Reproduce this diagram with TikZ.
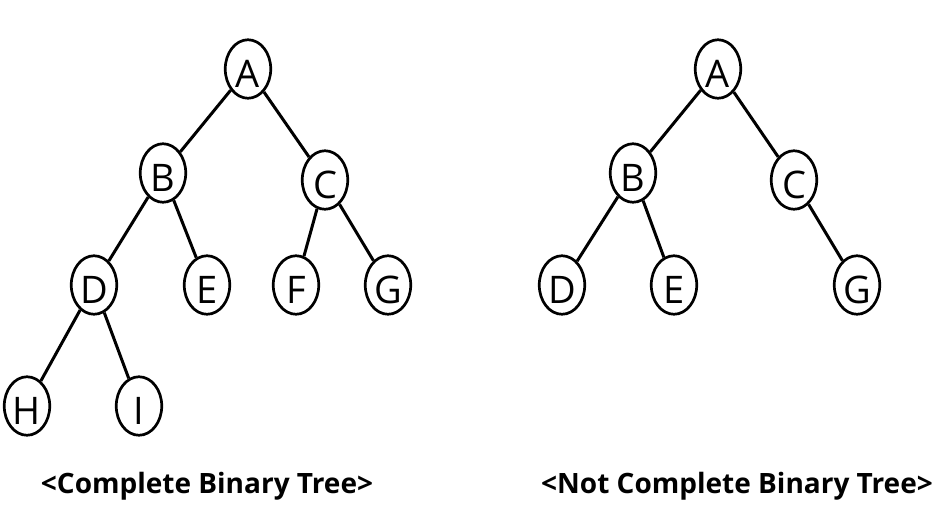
\documentclass[tikz,border=0pt]{standalone}
\usepackage{fontspec}
\setmainfont{Open Sans}
\usetikzlibrary{shapes.geometric}
\begin{document}
\begin{tikzpicture}[x=1pt,y=-1pt,
  treenode/.style={ellipse,draw=black,line width=2.7pt,minimum width=45.5pt,minimum height=58.5pt,
    inner sep=0pt,text height=37pt,text depth=0pt,font=\fontsize{38}{38}\selectfont},
  treeedge/.style={line width=3pt},
  caption/.style={anchor=base,font=\fontsize{28}{30}\selectfont\bfseries}]
\useasboundingbox (0,0) rectangle (946,528);
\node[treenode] (lA) at (248,69) {A};
\node[treenode] (lB) at (163,173) {B};
\node[treenode] (lC) at (325,180) {C};
\node[treenode] (lD) at (94,285) {D};
\node[treenode] (lE) at (207,285) {E};
\node[treenode] (lF) at (296,285) {F};
\node[treenode] (lG) at (388,285) {G};
\node[treenode] (lH) at (27,406) {H};
\node[treenode] (lI) at (139,406) {I};
\draw[treeedge] (lA) -- (lB);
\draw[treeedge] (lA) -- (lC);
\draw[treeedge] (lB) -- (lD);
\draw[treeedge] (lB) -- (lE);
\draw[treeedge] (lC) -- (lF);
\draw[treeedge] (lC) -- (lG);
\draw[treeedge] (lD) -- (lH);
\draw[treeedge] (lD) -- (lI);
\node[caption] (lcap) at (207,493) {<Complete Binary Tree>};
\node[treenode] (rA) at (718,69) {A};
\node[treenode] (rB) at (633,173) {B};
\node[treenode] (rC) at (794,180) {C};
\node[treenode] (rD) at (562,285) {D};
\node[treenode] (rE) at (674,285) {E};
\node[treenode] (rG) at (857,285) {G};
\draw[treeedge] (rA) -- (rB);
\draw[treeedge] (rA) -- (rC);
\draw[treeedge] (rB) -- (rD);
\draw[treeedge] (rB) -- (rE);
\draw[treeedge] (rC) -- (rG);
\node[caption] (rcap) at (737,493) {<Not Complete Binary Tree>};
\end{tikzpicture}
\end{document}
